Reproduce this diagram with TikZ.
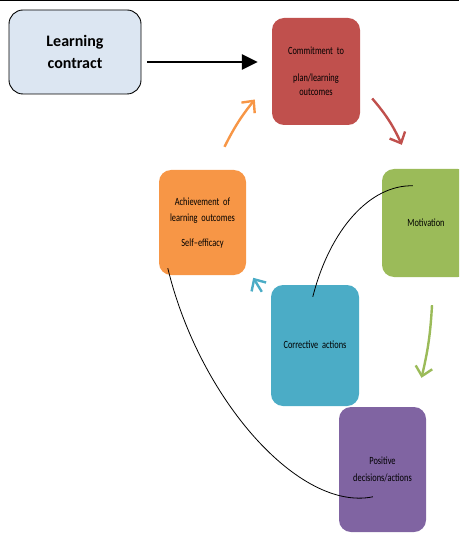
\documentclass[tikz,border=0pt]{standalone}
\usepackage{fontspec}
\setmainfont{Carlito}
\usepackage{graphicx}
\usepackage{tikz}
\usetikzlibrary{positioning,arrows.meta,calc}
\definecolor{lcblue}{HTML}{DCE6F2}
\definecolor{cyred}{HTML}{C0504D}
\definecolor{cygreen}{HTML}{9BBB59}
\definecolor{cypurple}{HTML}{8064A2}
\definecolor{cycyan}{HTML}{4BACC6}
\definecolor{cyorange}{HTML}{F79646}
\newcommand{\narrowtext}[1]{\scalebox{0.76}[1]{\begin{tabular}{@{}c@{}}#1\end{tabular}}}

\begin{document}
\begin{tikzpicture}[
  x=1pt, y=-1pt,
  font=\fontsize{11}{16.5}\selectfont,
  stage/.style={rounded corners=12pt, minimum width=88pt, minimum height=106pt,
    align=center, inner sep=1pt},
  flow/.style={line width=2.4pt, -{Straight Barb[length=9pt,width=17pt]}},
  link/.style={black, line width=0.8pt},
  ]
  \useasboundingbox (0,0) rectangle (459,534);
  \clip (0,0) rectangle (459,534);
  \draw[line width=1.6pt] (0,0.5) -- (459,0.5);

  \node[draw=black, line width=0.9pt, fill=lcblue, rounded corners=14pt,
    minimum width=132pt, minimum height=84pt, align=center,
    font=\fontsize{16}{22}\selectfont\bfseries] (lc) at (75,52) {Learning\\contract};

  \node[stage, fill=cyred, minimum height=107pt] (com) at (316,71.5)
    {\narrowtext{Commitment\ \ to\\[11pt]plan/learning\\[-3pt]outcomes}};
  \node[stage, fill=cygreen, minimum height=108pt] (mot) at (426,223) {\narrowtext{Motivation}};
  \node[stage, fill=cypurple, minimum width=87pt, minimum height=125pt] (pos) at (382.5,469.5)
    {\narrowtext{Positive\\decisions/actions}};
  \node[stage, fill=cycyan, minimum height=121pt] (cor) at (315,345.5)
    {\narrowtext{Corrective\ \ actions}};
  \node[stage, fill=cyorange, minimum width=87pt, minimum height=105pt] (ach) at (202.5,222.5)
    {\narrowtext{Achievement\ \ of\\learning\ \ outcomes\\[8pt]Self--efficacy}};

  \draw[line width=2.6pt, -{Triangle[length=16pt,width=15pt]}, shorten <=6pt, shorten >=14pt]
    ([yshift=-10pt]lc.east) -- ([yshift=-10pt]lc.east -| com.west);

  % cycle arrows
  \draw[flow, cyred] ($(com.east)+(12,27)$) to[bend left=8] ($(mot.north west)+(20,-24)$);
  \draw[flow, cygreen] ($(mot.south)+(6,28)$) to[bend left=5] ($(pos.north)+(39,-29)$);
  \draw[flow, cycyan] ($(cor.north west)+(-9,7)$) -- ($(ach.north east)+(7,108)$);
  \draw[flow, cyorange] ($(ach.north)+(22,-23)$) to[bend left=6] ($(com.west)+(-17,28)$);

  % feedback links
  \coordinate (m1) at ($(mot.north west)+(31,17)$);
  \coordinate (c1) at ($(cor.north west)+(42,12)$);
  \coordinate (a1) at ($(ach.south west)+(9,-7)$);
  \coordinate (p1) at ($(pos.north west)+(34,90)$);
  \draw[link] (m1) .. controls +(-43,-1) and +(17,-67) .. (c1);
  \draw[link] (a1) .. controls +(32,132) and +(-73,15) .. (p1);
\end{tikzpicture}
\end{document}
